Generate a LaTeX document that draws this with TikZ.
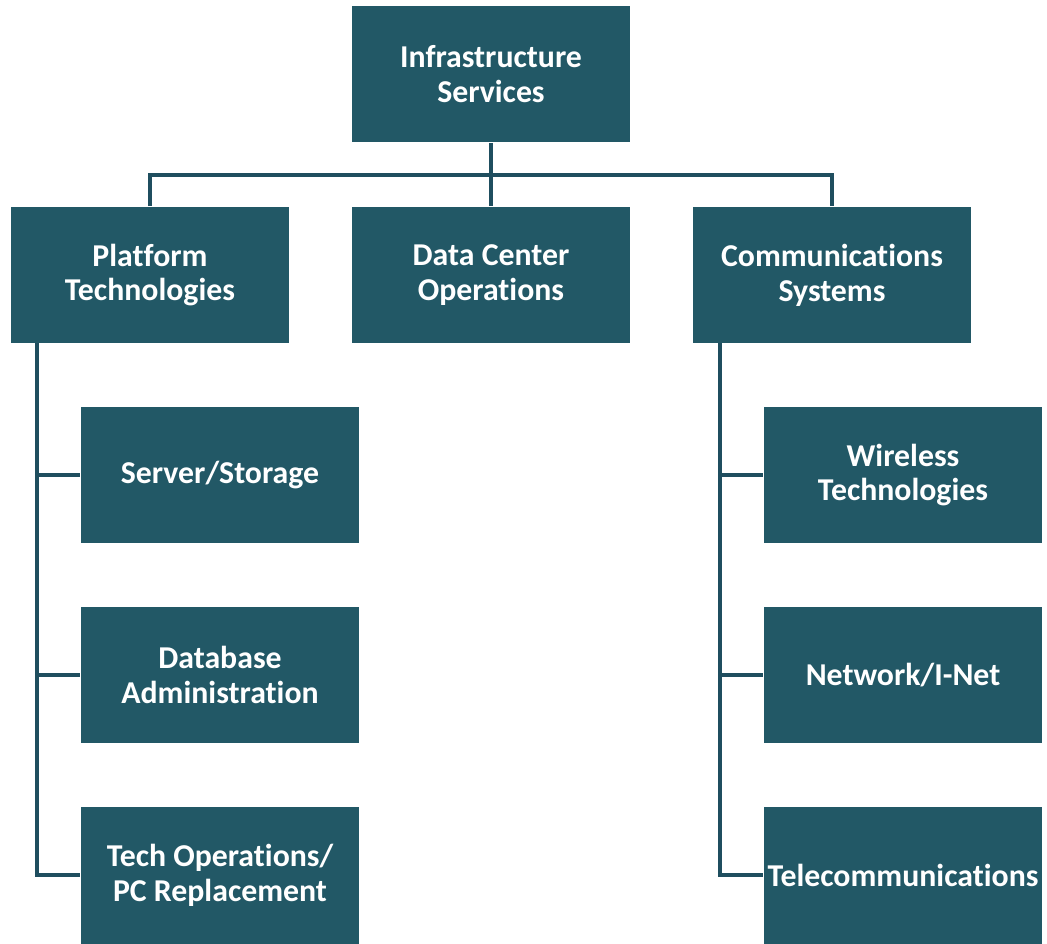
\documentclass[tikz,border=0pt]{standalone}
\usepackage{fontspec}
\setmainfont{Carlito}[RawFeature={-liga;-dlig}]
\usetikzlibrary{positioning,calc}
\definecolor{tealbox}{HTML}{225866}
\definecolor{tealline}{HTML}{1F4E5F}

\begin{document}
\begin{tikzpicture}[
    x=0.02cm, y=-0.02cm,
    unit/.style={rectangle, fill=tealbox, text=white, minimum width=5.58cm, minimum height=2.74cm, font=\fontsize{18.1}{19.8}\selectfont\bfseries, align=center, inner sep=1pt},
    link/.style={draw=tealline, line width=1.8pt},
]
    \useasboundingbox (0,0) rectangle (1047,943);
    \node[unit] (infra) at (491,74) {Infrastructure\\Services};
    \node[unit] (plat) at (150,275) {Platform\\Technologies};
    \node[unit] (dcops) at (491,275) {Data Center\\Operations};
    \node[unit] (comm) at (832,275) {Communications\\Systems};
    \node[unit] (srv) at (220,475) {Server/Storage};
    \node[unit] (dba) at (220,675) {Database\\Administration};
    \node[unit] (techop) at (220,875) {Tech Operations/\\PC Replacement};
    \node[unit] (wless) at (903,475) {Wireless\\Technologies};
    \node[unit] (inet) at (903,675) {Network/I-Net};
    \node[unit] (telco) at (903,875) {Telecommunications};
    % connectors
    \coordinate (bus) at (491,175);
    \coordinate (ltrunk) at (37,343);
    \coordinate (rtrunk) at (720,343);
    \draw[link] (infra.south) -- (dcops.north);
    \draw[link] (plat.north) |- (bus) -| (comm.north);
    \draw[link] (ltrunk) |- (srv.west);
    \draw[link] (ltrunk) |- (dba.west);
    \draw[link] (ltrunk) |- (techop.west);
    \draw[link] (rtrunk) |- (wless.west);
    \draw[link] (rtrunk) |- (inet.west);
    \draw[link] (rtrunk) |- (telco.west);
\end{tikzpicture}
\end{document}
